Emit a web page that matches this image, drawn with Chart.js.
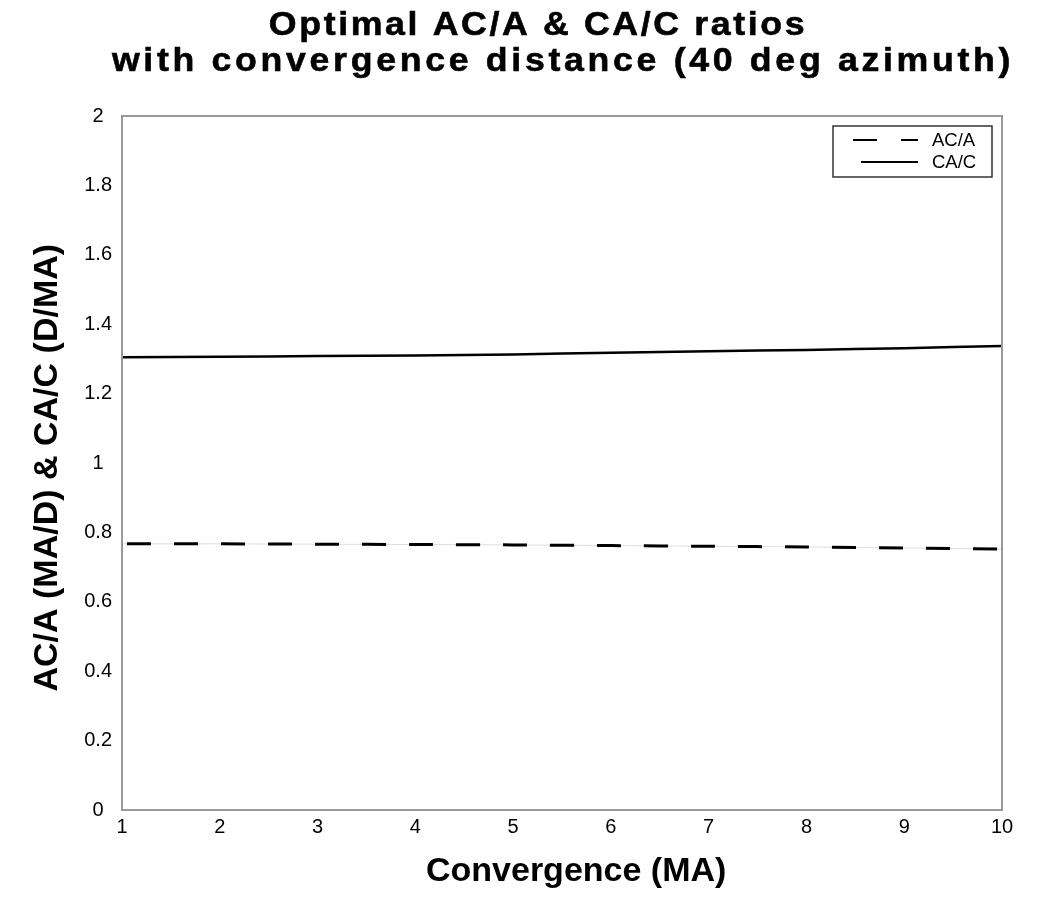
<!DOCTYPE html>
<html lang="en">
<head>
    <meta charset="UTF-8">
    <title>Optimal AC/A & CA/C ratios</title>
    <script src="https://cdn.jsdelivr.net/npm/chart.js"></script>
    <style>
        html, body { margin: 0; padding: 0; background: #fff; }
        #wrap { width: 1050px; height: 904px; }
    </style>
</head>
<body>
    <div id="wrap"><canvas id="ratioChart" width="1050" height="904"></canvas></div>
    <script>
        // values
        let convergence = [1, 2, 3, 4, 5, 6, 7, 8, 9, 10];
        let acaValues = [0.767, 0.767, 0.766, 0.765, 0.764, 0.762, 0.760, 0.758, 0.755, 0.752];
        let cacValues = [1.305, 1.306, 1.308, 1.310, 1.313, 1.318, 1.322, 1.326, 1.331, 1.337];
        let seriesNames = ['AC/A', 'CA/C'];
        let titleLines = ['Optimal AC/A & CA/C ratios', 'with convergence distance (40 deg azimuth)'];

        const FONT = '"Liberation Sans", Arial, sans-serif';

        function toPoints(values) {
            return convergence.map((x, i) => ({ x: x, y: values[i] }));
        }

        // wide two line heading
        const headPlugin = {
            id: 'heading',
            afterDraw(chart) {
                const ctx = chart.ctx;
                const lines = [
                    { text: titleLines[0], x: 538, y: 35, spacing: '2.5px' },
                    { text: titleLines[1], x: 563, y: 71, spacing: '3.5px' }
                ];
                lines.forEach(l => {
                    ctx.save();
                    ctx.font = 'bold 34px ' + FONT;
                    ctx.letterSpacing = l.spacing;
                    ctx.fillStyle = '#000';
                    ctx.strokeStyle = '#000';
                    ctx.lineWidth = 0.6;
                    ctx.textAlign = 'center';
                    ctx.textBaseline = 'alphabetic';
                    ctx.translate(l.x, l.y);
                    ctx.scale(1.05, 1);
                    ctx.fillText(l.text, 0, 0);
                    ctx.strokeText(l.text, 0, 0);
                    ctx.restore();
                });
            }
        };

        // grey frame round the plot area
        const framePlugin = {
            id: 'frame',
            afterDatasetsDraw(chart) {
                const a = chart.chartArea;
                const ctx = chart.ctx;
                ctx.save();
                ctx.strokeStyle = '#999999';
                ctx.lineWidth = 2;
                ctx.strokeRect(a.left, a.top, a.right - a.left, a.bottom - a.top);
                ctx.restore();
            }
        };

        // boxed legend inside the top right corner
        const boxLegend = {
            id: 'boxLegend',
            afterDraw(chart) {
                const ctx = chart.ctx;
                const a = chart.chartArea;
                const boxL = a.right - 169, boxT = a.top + 10, boxW = 159, boxH = 51;
                ctx.save();
                ctx.strokeStyle = '#333';
                ctx.lineWidth = 1.5;
                ctx.strokeRect(boxL, boxT, boxW, boxH);
                ctx.font = '18.5px ' + FONT;
                ctx.fillStyle = '#000';
                ctx.textBaseline = 'middle';
                chart.data.datasets.filter(ds => ds.label).forEach((ds, i) => {
                    const y = boxT + 14 + i * 22;
                    ctx.beginPath();
                    ctx.strokeStyle = '#000';
                    ctx.lineWidth = 2;
                    if (ds.borderDash && ds.borderDash.length) {
                        ctx.setLineDash([24, 24]);
                        ctx.moveTo(boxL + 20, y);
                    } else {
                        ctx.setLineDash([]);
                        ctx.moveTo(boxL + 28, y);
                    }
                    ctx.lineTo(boxL + 85, y);
                    ctx.stroke();
                    ctx.setLineDash([]);
                    ctx.fillText(ds.label, boxL + 99, y + 1);
                });
                ctx.restore();
            }
        };

        const ctx = document.getElementById('ratioChart').getContext('2d');
        new Chart(ctx, {
            type: 'line',
            data: {
                datasets: [{
                    label: seriesNames[0],
                    data: toPoints(acaValues),
                    borderColor: '#000',
                    borderWidth: 3,
                    borderDash: [24, 23],
                    borderDashOffset: 42,
                    pointRadius: 0,
                    tension: 0.3,
                    fill: false,
                    order: 1
                }, {
                    label: seriesNames[1],
                    data: toPoints(cacValues),
                    borderColor: '#000',
                    borderWidth: 2.5,
                    pointRadius: 0,
                    tension: 0.3,
                    fill: false,
                    order: 1
                }, {
                    // faint trace visible between the dashes, drawn underneath
                    label: '',
                    data: toPoints(acaValues),
                    borderColor: '#dddddd',
                    borderWidth: 1,
                    pointRadius: 0,
                    tension: 0.3,
                    fill: false,
                    order: 2
                }]
            },
            options: {
                responsive: false,
                animation: false,
                layout: { padding: { left: 27, right: 48, top: 116, bottom: 0 } },
                plugins: {
                    legend: { display: false },
                    tooltip: { enabled: false },
                    title: { display: false }
                },
                scales: {
                    x: {
                        type: 'linear',
                        min: 1,
                        max: 10,
                        grid: { display: false, drawTicks: false },
                        border: { display: false },
                        ticks: {
                            stepSize: 1,
                            color: '#000',
                            padding: 5,
                            font: { family: FONT, size: 20 }
                        },
                        title: {
                            display: true,
                            text: '   Convergence (MA)',
                            color: '#000',
                            font: { family: FONT, size: 34, weight: 'bold' },
                            padding: { top: 0, bottom: 12 }
                        },
                        afterFit(scale) { scale.height = 94; }
                    },
                    y: {
                        min: 0,
                        max: 2,
                        grid: { display: false, drawTicks: false },
                        border: { display: false },
                        ticks: {
                            stepSize: 0.2,
                            color: '#000',
                            padding: 10,
                            crossAlign: 'center',
                            font: { family: FONT, size: 20 },
                            callback: v => String(Math.round(v * 10) / 10)
                        },
                        title: {
                            display: true,
                            text: 'AC/A (MA/D) & CA/C (D/MA) ',
                            color: '#000',
                            font: { family: FONT, size: 34, weight: 'bold' },
                            padding: { top: 0, bottom: 0 }
                        },
                        afterFit(scale) { scale.width = 95; }
                    }
                }
            },
            plugins: [framePlugin, boxLegend, headPlugin]
        });
    </script>
</body>
</html>
